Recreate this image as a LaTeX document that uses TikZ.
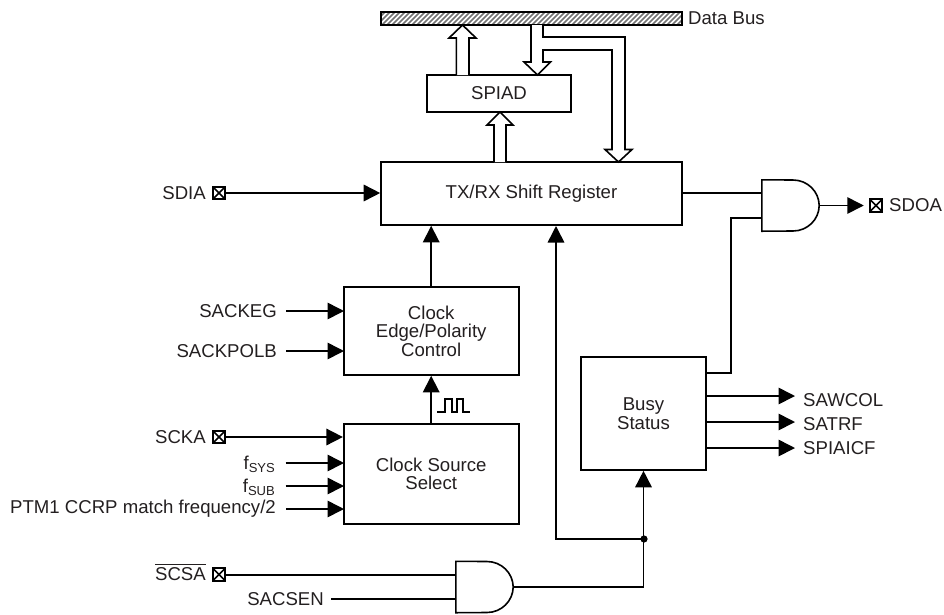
\documentclass[tikz,border=0pt]{standalone}
\usepackage{fontspec}
\setmainfont{Liberation Sans}
\usetikzlibrary{arrows.meta,calc}
\definecolor{ink}{HTML}{231F20}
\tikzset{
  wire/.style={line width=1.6pt,draw=black},
  sig/.style={wire,-{Triangle[length=16.5pt,width=16.5pt]}},
  blockbox/.style={draw=black,line width=1.6pt,fill=white,inner sep=0pt,align=center,text=ink,font=\fontsize{18.6}{18.5}\selectfont,minimum width=#1},
  lab/.style={inner sep=0pt,text=ink,font=\fontsize{18.6}{18}\selectfont},
  pin/.style={draw=black,line width=2pt,fill=white,inner sep=0pt,minimum size=12.5pt,
     path picture={\draw[line width=1.7pt] (path picture bounding box.north west)--(path picture bounding box.south east) (path picture bounding box.north east)--(path picture bounding box.south west);}},
  gatearea/.style={inner sep=0pt,minimum width=57pt,minimum height=51pt},
  wide/.style={line width=1.6pt,draw=black,fill=white,line join=miter},
}
\begin{document}
\begin{tikzpicture}[x=1pt,y=-1pt]
\useasboundingbox (0,0) rectangle (944,614);
% bus
\node[inner sep=0pt,minimum width=301pt,minimum height=13pt] (bus) at (531.5,18.5) {};
\begin{scope}
\clip (bus.south west) rectangle (bus.north east);
\fill[white] (bus.south west) rectangle (bus.north east);
\foreach \i in {0,5,...,330}{
  \draw[line width=1.5pt,draw=black!55] (370+\i,27) -- (370+\i+17,10);
}
\end{scope}
\draw[wire] (bus.south west) rectangle (bus.north east);
\node[lab,anchor=west] (buslab) at (688,18) {Data Bus};
% blocks
\node[blockbox=144pt,minimum height=37pt] (spiad) at (499,93.5) {SPIAD};
\node[blockbox=301pt,minimum height=63pt] (tx) at (531.5,193.5) {TX/RX Shift Register};
\node[blockbox=175pt,minimum height=88pt] (edge) at (431.2,331) {Clock\\Edge/Polarity\\Control};
\node[blockbox=175pt,minimum height=100pt] (src) at (431.2,474) {Clock Source\\Select};
\node[blockbox=125pt,minimum height=113pt] (busy) at (643.5,413.5) {Busy\\Status};
% gates
\node[gatearea] (g1) at (790.5,205.5) {};
\node[gatearea] (g2) at (484.5,587) {};
\draw[wire,line join=miter] (g1.north west) -- (793,180) .. controls (807.4,180) and (819,191.4) .. (g1.east) .. controls (819,219.6) and (807.4,231) .. (793,231) -- (g1.south west) -- cycle;
\draw[wire,line join=miter] (g2.north west) -- (487,561.5) .. controls (501.4,561.5) and (513,573) .. (g2.east) .. controls (513,601) and (501.4,612.5) .. (487,612.5) -- (g2.south west) -- cycle;
% wide arrows
\draw[wide] (456.3,75) -- (456.3,38) -- (449,38) -- (462.5,25) -- (476,38) -- (469,38) -- (469,75);
\draw[wide] (494,162) -- (494,125) -- (487,125) -- (500,112) -- (513,125) -- (506,125) -- (506,162);
\draw[wide] (531,25) -- (531,62) -- (524,62) -- (537.5,75) -- (550.5,62) -- (543,62) -- (543,50) -- (612,50) -- (612,149.5) -- (605,149.5) -- (618.5,162) -- (632,149.5) -- (625,149.5) -- (625,37) -- (543,37) -- (543,25);
% pins and labels
\node[pin] (psdia) at (219,193) {};
\node[lab,anchor=east] (lsdia) at (206,193) {SDIA};
\node[pin] (pscka) at (219,437) {};
\node[lab,anchor=east] (lscka) at (206,437) {SCKA};
\node[pin] (pscsa) at (219,574.5) {};
\node[lab,anchor=base east] (lscsa) at (206,580) {\rlap{\rule[14.8pt]{50.5pt}{0.9pt}}\kern0pt SCSA};
\node[pin] (psdoa) at (876,205.5) {};
\node[lab,anchor=west] (lsdoa) at (889,205) {SDOA};
\node[lab,anchor=east] (lsackeg) at (277,311) {SACKEG};
\node[lab,anchor=east] (lpol) at (277,351) {SACKPOLB};
\node[lab,anchor=base east] (lsys) at (275.5,469) {f\textsubscript{SYS}};
\node[lab,anchor=base east] (lsub) at (275.5,492) {f\textsubscript{SUB}};
\node[lab,anchor=east] (lptm) at (276,509) {PTM1 CCRP match frequency/2};
\node[lab,anchor=east] (lsen) at (324,599) {SACSEN};
\node[lab,anchor=west] (lcol) at (803,400) {SAWCOL};
\node[lab,anchor=west] (ltrf) at (803,424) {SATRF};
\node[lab,anchor=west] (licf) at (803,448) {SPIAICF};
% named connection points
\coordinate (j) at (644,539);
\coordinate (up) at (556,226);
\coordinate (e1) at (344,311);
\coordinate (e2) at (344,351);
\coordinate (s2) at (344,463);
\coordinate (s3) at (344,486);
\coordinate (s4) at (344,509);
\coordinate (g2a) at (456,575);
\coordinate (g2b) at (456,599);
\coordinate (g1a) at (762,193);
\coordinate (g1b) at (762,218);
\coordinate (b1) at (706,373);
\coordinate (b2) at (706,396);
\coordinate (b3) at (706,422);
\coordinate (b4) at (706,448);
\coordinate (bend) at (731,218);
% connectors
\draw[sig] (psdia.east) -- (tx.west |- psdia);
\draw[sig] (edge.north) -- (tx.south -| edge);
\draw[sig] (src.north) -- (edge.south);
\draw[sig,shorten <=9pt] (lsackeg.east) -- (e1);
\draw[sig,shorten <=9pt] (lpol.east) -- (e2);
\draw[sig] (pscka.east) -- (src.west |- pscka);
\draw[sig,shorten <=10pt] (lsys.east |- s2) -- (s2);
\draw[sig,shorten <=10pt] (lsub.east |- s3) -- (s3);
\draw[sig,shorten <=10pt] (lptm.east) -- (s4);
\draw[wire] (pscsa.east |- g2a) -- (g2a);
\draw[wire,shorten <=7pt] (lsen.east) -- (g2b);
\draw[sig] (g2.east) -| (busy.south);
\draw[sig] (j) -| (up);
\fill (j) circle (3.6pt);
\draw[wire] (tx.east |- g1a) -- (g1a);
\draw[wire] (b1) -| (bend) -- (g1b);
\draw[sig,shorten >=5pt] (g1.east) -- (psdoa.west);
\draw[sig,shorten >=8pt] (b2) -- (b2 -| lcol.west);
\draw[sig,shorten >=8pt] (b3) -- (b3 -| ltrf.west);
\draw[sig,shorten >=8pt] (b4) -- (b4 -| licf.west);
% clock pulse glyph
\draw[line width=1.4pt] (437,412) -- (445,412) -- (445,399) -- (452,399) -- (452,412) -- (457,412) -- (457,399) -- (463,399) -- (463,412) -- (470,412);
\end{tikzpicture}
\end{document}
